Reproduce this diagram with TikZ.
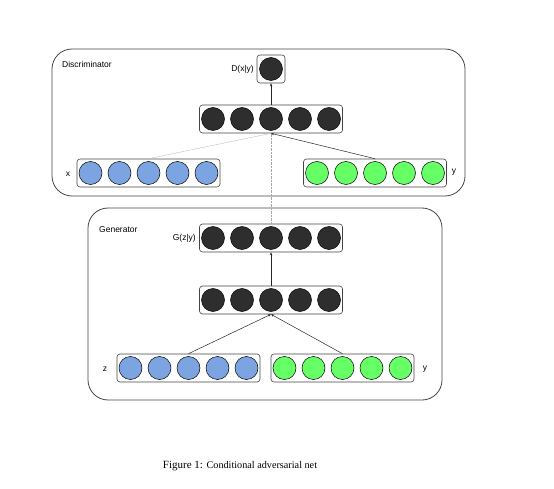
\documentclass[tikz,border=0pt]{standalone}
\usepackage{fontspec}
\setmainfont{Liberation Serif}
\setsansfont{Liberation Sans}
\usetikzlibrary{arrows.meta,calc}
\definecolor{unitdark}{HTML}{2E2E2E}
\definecolor{unitblue}{HTML}{7BA4E0}
\definecolor{unitgreen}{HTML}{66FF66}
\definecolor{boxline}{HTML}{444444}
\tikzset{
  panel/.style={draw=boxline, line width=0.8pt, rounded corners=20pt},
  layerbox/.style={draw=boxline, line width=0.6pt, rounded corners=3pt, fill=white,
    minimum width=143pt, minimum height=28pt, inner sep=0pt},
  outbox/.style={draw=boxline, line width=0.6pt, rounded corners=3pt, fill=white,
    minimum width=28pt, minimum height=28pt, inner sep=0pt},
  unit/.style={circle, draw=black, line width=0.5pt, minimum size=23pt, inner sep=0pt},
  lbl/.style={font=\sffamily\fontsize{8.5}{10}\selectfont, inner sep=0pt},
  conn/.style={-{Stealth[length=3pt,width=2.5pt]}, line width=0.5pt, black!85},
  faint/.style={line width=0.4pt, black!25},
  faintdot/.style={line width=0.4pt, black!35, densely dotted},
}
\newcommand{\mylayer}[4]{%
  \node[layerbox] (#1) at (#2,#3) {};
  \foreach \k in {-2,-1,0,1,2} {
    \node[unit, fill=#4] (#1-\k) at ($(#2,#3)+(\k*29,0)$) {};
  }
}
\begin{document}
\begin{tikzpicture}[x=1pt,y=-1pt]
\useasboundingbox (0,0) rectangle (554,489);
% panels
\draw[panel] (52,49) rectangle (465,196);
\draw[panel] (88,208) rectangle (442,400);
\node[lbl, anchor=west] (dlab) at (62,64) {Discriminator};
\node[lbl, anchor=west] (glab) at (99,230) {Generator};
% discriminator
\node[outbox] (dout) at (271,69) {};
\node[unit, fill=unitdark] (dout-c) at (271,69) {};
\node[lbl, anchor=east] (dtxt) at (254,69) {D(x|y)};
\mylayer{dh}{271}{119}{unitdark}
\mylayer{dx}{148.5}{173}{unitblue}
\mylayer{dy}{375}{173}{unitgreen}
\node[lbl] (xtxt) at (68,174) {x};
\node[lbl] (ytxt) at (454,172) {y};
% generator
\mylayer{go}{271}{238}{unitdark}
\mylayer{gh}{271}{300}{unitdark}
\mylayer{gz}{188.5}{368}{unitblue}
\mylayer{gy}{342.5}{368}{unitgreen}
\node[lbl, anchor=east] (gtxt) at (196,238) {G(z|y)};
\node[lbl] (ztxt) at (105,369) {z};
\node[lbl] (y2txt) at (425,369) {y};
% connectors
\draw[conn] (dh.north) -- (dout.south);
\draw[faint] (dx.north) -- (dh.south);
\draw[conn] (dy.north) -- (dh.south);
\draw[faintdot] (go.north) -- (dh.south);
\draw[conn] (gh.north) -- (go.south);
\draw[conn] (gz.north) -- (gh.south);
\draw[conn] (gy.north) -- (gh.south);
% caption
\node[inner sep=0pt] (cap) at (240,466) {\fontsize{11}{13}\selectfont Figure 1: \fontsize{10.2}{12}\selectfont Conditional adversarial net};
\end{tikzpicture}
\end{document}
